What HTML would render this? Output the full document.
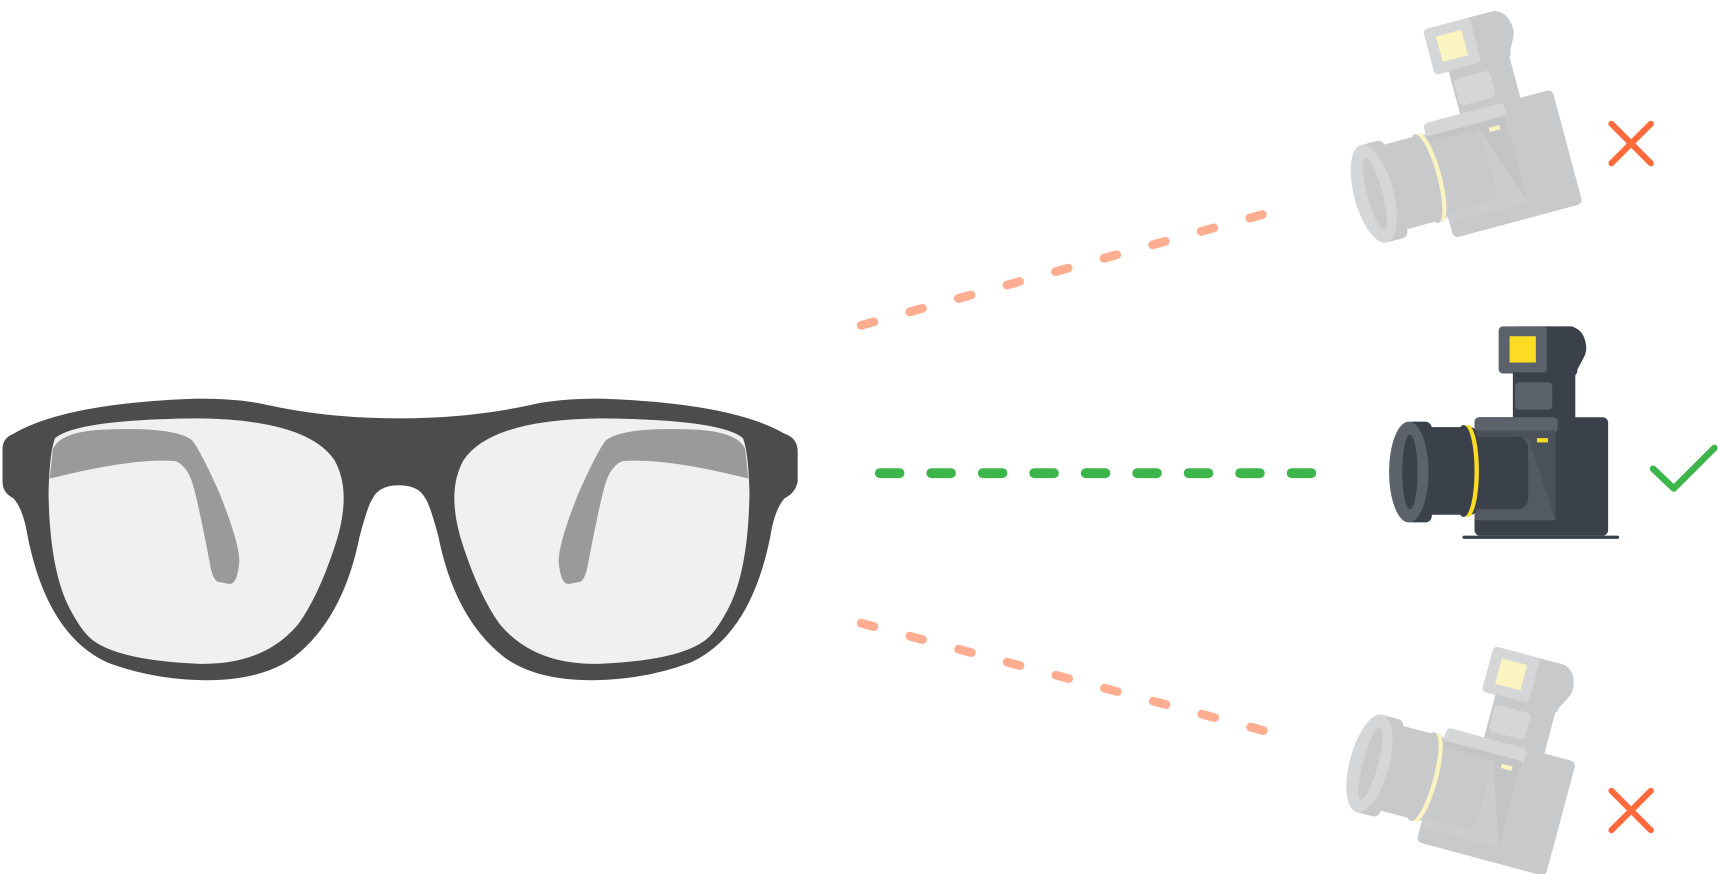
<!DOCTYPE html>
<html><head><meta charset="utf-8"><style>html,body{margin:0;padding:0;background:#fff;}svg{display:block}</style></head>
<body>
<svg width="1718" height="874" viewBox="0 0 1568 798" xmlns="http://www.w3.org/2000/svg">
<defs>
<g id="cam">
  <rect x="1380" y="298" width="60" height="46" rx="6" fill="var(--d)"/>
  <path d="M1430 298 Q1442 298 1446 308 Q1450 318 1446 326 L1438 341 L1430 341 Z" fill="var(--d)"/>
  <rect x="1368" y="298" width="44" height="43" rx="4" fill="var(--m)"/>
  <rect x="1378" y="307" width="24" height="24" fill="var(--y)"/>
  <rect x="1381" y="340" width="57" height="44" fill="var(--d)"/>
  <rect x="1383" y="349" width="34" height="25" rx="4" fill="var(--m)"/>
  <rect x="1346" y="381" width="122" height="108" rx="5" fill="var(--d)"/>
  <rect x="1346" y="381" width="76" height="14" rx="4" fill="var(--m)"/>
  <path d="M1346 393 L1420 393 L1420 475 L1346 475 Z" fill="var(--l)"/>
  <path d="M1395 400 L1420 475 L1346 475 L1346 400 Z" fill="var(--l2)"/>
  <rect x="1403" y="400" width="10" height="4" fill="var(--y)"/>
  <rect x="1340" y="399" width="55" height="66" rx="10" fill="var(--d)"/>
  <rect x="1300" y="390" width="48" height="80" rx="6" fill="var(--d)"/>
  <ellipse cx="1340" cy="430" rx="10" ry="42" fill="var(--y)"/>
  <ellipse cx="1336" cy="430" rx="10" ry="42" fill="var(--d)"/>
  <rect x="1283" y="385" width="24" height="92" rx="6" fill="var(--d)"/>
  <ellipse cx="1286" cy="431" rx="18" ry="46" fill="var(--m)"/>
  <ellipse cx="1287" cy="431" rx="7" ry="34" fill="var(--d)"/>
</g>
</defs>
<path d="M2 410 Q2 400 12 396 Q60 368 180 364 Q220 364 245 370 Q300 382 364 382 Q428 382 483 370 Q508 364 548 364 Q668 368 716 396 Q728 400 728 412 L728 440 Q726 450 716 455 Q707 465 703 490 Q685 580 630 605 Q590 620 545 621 Q490 622 460 600 Q415 565 400 490 Q392 460 388 455 Q382 443 364 443 Q346 443 340 455 Q336 460 328 490 Q313 565 268 600 Q238 622 183 621 Q138 620 98 605 Q43 580 25 490 Q21 465 12 455 Q2 450 2 440 Z" fill="#4c4c4c"/>
<path d="M50 400 Q70 383 180 382 Q280 383 305 420 Q322 450 305 500 Q290 545 272 570 Q240 608 180 606 Q110 603 85 585 Q75 578 63 555 Q45 520 44 450 Q45 412 50 400 Z" fill="#f0f0f0"/>
<path d="M678 400 Q658 383 548 382 Q448 383 423 420 Q406 450 423 500 Q438 545 456 570 Q488 608 548 606 Q618 603 643 585 Q653 578 665 555 Q683 520 684 450 Q683 412 678 400 Z" fill="#f0f0f0"/>
<path d="M48 410 Q55 393 100 392 Q160 390 175 402 Q182 410 200 450 Q220 500 218 515 Q216 535 208 533 L198 531 Q194 528 192 518 Q180 455 175 440 Q170 425 160 421 Q120 418 45 437 Z" fill="#9a9a9a"/>
<path d="M680 410 Q673 393 628 392 Q568 390 553 402 Q546 410 528 450 Q508 500 510 515 Q512 535 520 533 L530 531 Q534 528 536 518 Q548 455 553 440 Q558 425 568 421 Q608 418 683 437 Z" fill="#9a9a9a"/>
<line x1="786" y1="297" x2="1170" y2="191" stroke="#ffad91" stroke-width="8" stroke-linecap="round" stroke-dasharray="12 34"/>
<line x1="803" y1="432" x2="1200" y2="432" stroke="#3cb54a" stroke-width="9" stroke-linecap="round" stroke-dasharray="18 29"/>
<line x1="786" y1="569" x2="1168" y2="671" stroke="#ffad91" stroke-width="8" stroke-linecap="round" stroke-dasharray="12 34"/>
<g style="--d:#c8c9cb;--m:#d5d6d8;--l:#c3c4c6;--l2:#cbccce;--y:#fbf3c0">
<use href="#cam" transform="translate(-32,-254) rotate(-15 1286 431)"/>
<use href="#cam" transform="translate(-36,266) rotate(15 1286 431)"/>
</g>
<g style="--d:#3a414b;--m:#5b626c;--l:#4a515b;--l2:#535a64;--y:#fbdc22">
<use href="#cam"/>
</g>
<rect x="1335" y="489" width="143" height="3" rx="1.5" fill="#3a414b"/>
<g stroke="#ff6a3d" stroke-width="5.5" stroke-linecap="round">
<line x1="1471" y1="113" x2="1507" y2="149"/><line x1="1507" y1="113" x2="1471" y2="149"/>
<line x1="1471" y1="722" x2="1507" y2="758"/><line x1="1507" y1="722" x2="1471" y2="758"/>
</g>
<polyline points="1509,428 1528,446 1565,409" fill="none" stroke="#3cb54a" stroke-width="6" stroke-linecap="round" stroke-linejoin="round"/>
</svg>
</body></html>
